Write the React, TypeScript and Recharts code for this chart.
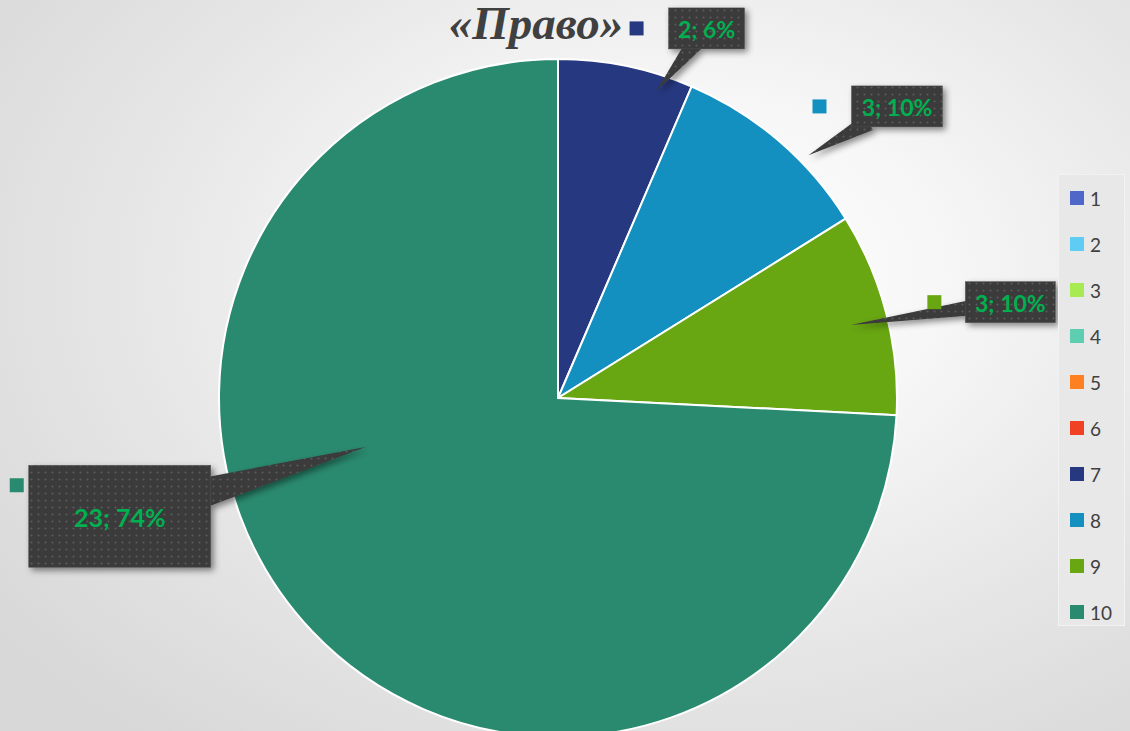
import { Cell, Legend, Pie, PieChart } from "recharts";

const categories = ["1", "2", "3", "4", "5", "6", "7", "8", "9", "10"];
const counts = [0, 0, 0, 0, 0, 0, 2, 3, 3, 23];
const colors = [
  "#4e67c8",
  "#5eccf3",
  "#a7ea52",
  "#5dceaf",
  "#ff8021",
  "#f14124",
  "#263880",
  "#1390c0",
  "#68a612",
  "#2a8a6f",
];

const data = categories.map((name, i) => ({ name, value: counts[i], fill: colors[i] }));

// where each callout sits, in degrees and fractions of the pie radius
const callouts: Record<string, any> = {
  "7": { boxAngle: 68.1, boxR: 1.175, w: 76, h: 41, tipAngle: 72.2, tipR: 0.951, base: 18, keyGap: 25, keyDy: 0, font: 23 },
  "8": { boxAngle: 40.7, boxR: 1.319, w: 91, h: 41, tipAngle: 44.1, tipR: 1.029, base: 18, keyGap: 25, keyDy: 0, font: 23 },
  "9": { boxAngle: 11.96, boxR: 1.364, w: 90, h: 41, tipAngle: 14.0, tipR: 0.89, base: 16, keyGap: 24, keyDy: 0, font: 23 },
  "10": { boxAngle: 195.1, boxR: 1.339, w: 182, h: 102, tipAngle: 194.3, tipR: 0.586, base: 30, keyGap: 5, keyDy: -31, font: 25 },
};

const RAD = Math.PI / 180;

function Callout(props: any) {
  const { cx, cy, outerRadius, index, value, percent } = props;
  const c = callouts[categories[index]];
  if (!value || !c) return null;
  const polar = (deg: number, r: number) => [
    cx + r * outerRadius * Math.cos(deg * RAD),
    cy - r * outerRadius * Math.sin(deg * RAD),
  ];
  const [bx, by] = polar(c.boxAngle, c.boxR);
  const [tx, ty] = polar(c.tipAngle, c.tipR);
  const dx = tx - bx;
  const dy = ty - by;
  const len = Math.hypot(dx, dy);
  const t = Math.min(c.w / 2 / Math.abs(dx || 1e-6), c.h / 2 / Math.abs(dy || 1e-6));
  const inset = Math.max(t * len - 10, 0) / len;
  const px = bx + dx * inset;
  const py = by + dy * inset;
  const nx = (-dy / len) * (c.base / 2);
  const ny = (dx / len) * (c.base / 2);
  const left = bx - c.w / 2;
  const top = by - c.h / 2;
  return (
    <g>
      <g filter="url(#calloutShadow)">
        <polygon
          points={`${px + nx},${py + ny} ${tx},${ty} ${px - nx},${py - ny}`}
          fill="url(#calloutDots)"
        />
        <rect x={left} y={top} width={c.w} height={c.h} fill="url(#calloutDots)" stroke="#555" strokeWidth={0.5} />
      </g>
      <rect x={left - c.keyGap - 14} y={by + c.keyDy - 7} width={14} height={14} fill={colors[index]} />
      <text
        x={bx}
        y={by + 1}
        textAnchor="middle"
        dominantBaseline="central"
        fill="#00b050"
        fontFamily="Lato, 'Open Sans', sans-serif"
        fontWeight={700}
        fontSize={c.font}
      >
        {`${value}; ${Math.round(percent * 100)}%`}
      </text>
    </g>
  );
}

function LegendBox({ payload }: any) {
  const items = [...(payload || [])].sort(
    (a: any, b: any) => categories.indexOf(String(a.value)) - categories.indexOf(String(b.value))
  );
  return (
    <div
      style={{
        width: 67,
        height: 452,
        background: "#e8e8e8",
        border: "1px solid #f2f2f2",
        boxSizing: "border-box",
      }}
    >
      {items.map((p: any) => (
        <div
          key={p.value}
          style={{ display: "flex", alignItems: "center", height: 46, paddingLeft: 11 }}
        >
          <span
            style={{
              display: "inline-block",
              width: 14,
              height: 14,
              background: colors[categories.indexOf(String(p.value))],
              marginRight: 6,
            }}
          />
          <span style={{ fontSize: 19, color: "#404040", fontFamily: "Lato, sans-serif", lineHeight: 1 }}>
            {p.value}
          </span>
        </div>
      ))}
    </div>
  );
}

export default function App() {
  return (
    <div
      style={{
        position: "relative",
        width: 1130,
        height: 731,
        overflow: "hidden",
        background:
          "radial-gradient(ellipse 75% 80% at 60% 38%, #ffffff 0%, #f7f7f7 30%, #e6e6e6 65%, #d8d8d8 100%)",
      }}
    >
      <style>{`body{margin:0}`}</style>
      <svg width={0} height={0} style={{ position: "absolute" }}>
        <defs>
          <pattern id="calloutDots" width={7} height={7} patternUnits="userSpaceOnUse">
            <rect width={7} height={7} fill="#3a3a3a" />
            <circle cx={3.5} cy={3.5} r={1.1} fill="#5a5a5a" />
          </pattern>
          <filter id="calloutShadow" x="-30%" y="-30%" width="160%" height="160%">
            <feDropShadow dx={3} dy={3} stdDeviation={3} floodColor="#000" floodOpacity={0.45} />
          </filter>
        </defs>
      </svg>
      <svg width={1130} height={60} style={{ position: "absolute", left: 0, top: 0 }}>
        <text
          x={536}
          y={39}
          textAnchor="middle"
          fill="#404040"
          fontFamily="'Liberation Serif', 'DejaVu Serif', serif"
          fontWeight={700}
          fontStyle="italic"
          fontSize={47}
        >
          «Право»
        </text>
      </svg>
      <div style={{ position: "absolute", left: 0, top: 0 }}>
        <PieChart width={1130} height={731} margin={{ top: 0, right: 0, bottom: 0, left: 0 }}>
          <Pie
            data={data}
            dataKey="value"
            nameKey="name"
            cx={558}
            cy={398}
            outerRadius={339}
            startAngle={90}
            endAngle={-270}
            stroke="#ffffff"
            strokeWidth={2}
            label={Callout}
            labelLine={false}
            isAnimationActive={false}
          >
            {data.map((d, i) => (
              <Cell key={d.name} fill={colors[i]} />
            ))}
          </Pie>
          <Legend
            layout="vertical"
            align="right"
            verticalAlign="middle"
            content={LegendBox}
            wrapperStyle={{ left: 1058, top: 174, width: 67, height: 452, right: "auto", bottom: "auto" }}
          />
        </PieChart>
      </div>
    </div>
  );
}
